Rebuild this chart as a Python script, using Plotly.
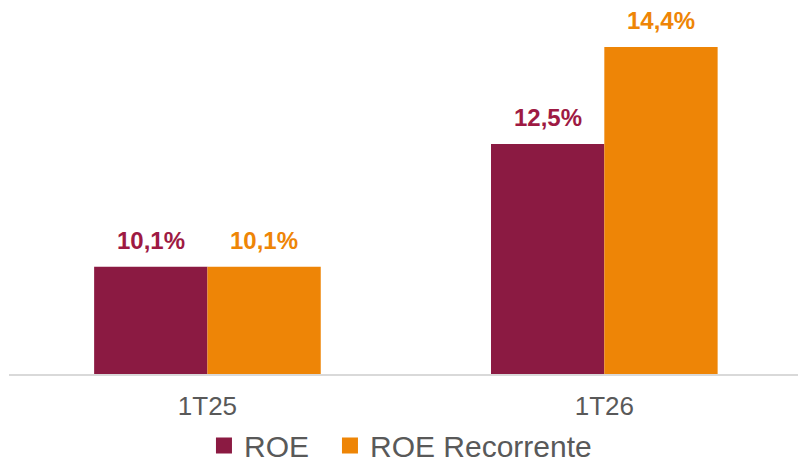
import plotly.graph_objects as go

categories = ["1T25", "1T26"]
roe = [10.1, 12.5]
roe_rec = [10.1, 14.4]
series_names = ["ROE", "ROE Recorrente"]
label_roe = ["10,1%", "12,5%"]
label_rec = ["10,1%", "14,4%"]

C_ROE = "#8B1A42"
C_REC = "#EE8506"
C_ROE_TXT = "#9E1A43"
FONT = "Liberation Sans, Arial, sans-serif"

fig = go.Figure()
fig.add_trace(go.Bar(x=categories, y=roe, name=series_names[0], marker_color=C_ROE,
                     marker_line_width=0, showlegend=False))
fig.add_trace(go.Bar(x=categories, y=roe_rec, name=series_names[1], marker_color=C_REC,
                     marker_line_width=0, showlegend=False))
# legend entries (one legend per entry for precise placement)
for nm, col, lg in zip(series_names, [C_ROE, C_REC], ["legend", "legend2"]):
    fig.add_trace(go.Scatter(x=[None], y=[None], mode="markers", name=nm, legend=lg,
                             marker=dict(symbol="square", size=16, color=col)))

# value labels
for vals, labs, col, sh in [(roe, label_roe, C_ROE_TXT, -56.7), (roe_rec, label_rec, C_REC, 56.7)]:
    for c, v, t in zip(categories, vals, labs):
        fig.add_annotation(x=c, y=v, text="<b>%s</b>" % t, showarrow=False,
                           xshift=sh, yshift=26.5, yanchor="middle",
                           font=dict(family=FONT, size=24, color=col))

leg_common = dict(orientation="h", xanchor="left", y=-0.1219, yanchor="top",
                  font=dict(size=30, color="#595959"), itemclick=False,
                  bgcolor="rgba(0,0,0,0)")
fig.update_layout(
    width=798, height=460,
    margin=dict(l=9, r=0, t=0, b=86, autoexpand=False),
    paper_bgcolor="white", plot_bgcolor="white",
    barmode="group", bargap=0.429, bargroupgap=0,
    font=dict(family=FONT, color="#595959"),
    xaxis=dict(range=[-0.5, 1.488], showgrid=False, showline=True, linecolor="#D9D9D9",
               linewidth=2, ticks="", tickfont=dict(size=26, color="#595959"),
               ticklabelstandoff=8, fixedrange=True, automargin=False),
    yaxis=dict(range=[8.0, 15.32], visible=False, fixedrange=True, automargin=False),
    legend=dict(x=0.2471, **leg_common),
    legend2=dict(x=0.4068, **leg_common),
)
fig.write_html("out.html", config={"displayModeBar": False},
               post_script="document.body.style.margin='0px';document.body.style.overflow='hidden';")
